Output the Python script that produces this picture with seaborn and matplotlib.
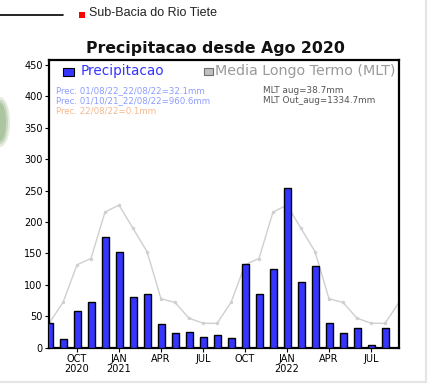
import matplotlib
matplotlib.use("Agg")
import matplotlib.pyplot as plt
import seaborn as sns
import numpy as np
import pandas as pd
from matplotlib.patches import Rectangle, Ellipse

# ---------------- data ----------------
months = ["Aug20", "Sep20", "Oct20", "Nov20", "Dec20", "Jan21", "Feb21", "Mar21",
          "Apr21", "May21", "Jun21", "Jul21", "Aug21", "Sep21", "Oct21", "Nov21",
          "Dec21", "Jan22", "Feb22", "Mar22", "Apr22", "May22", "Jun22", "Jul22", "Aug22"]
precip = [39, 14, 58, 72, 177, 152, 80, 86, 37, 23, 25, 17, 21, 15,
          133, 85, 126, 255, 105, 130, 40, 24, 32, 5, 32.1]
# long-term mean (MLT), Aug 2020 .. Sep 2022 (one point past last bar)
mlt = [38.7, 72, 132, 142, 216, 227, 190, 153, 78, 72, 47, 39,
       38.7, 72, 132, 142, 216, 227, 190, 153, 78, 72, 47, 39, 38.7, 72]
tick_pos = [2, 5, 8, 11, 14, 17, 20, 23]
tick_labels = ["OCT\n2020", "JAN\n2021", "APR", "JUL", "OCT", "JAN\n2022", "APR", "JUL"]
yticks = [0, 50, 100, 150, 200, 250, 300, 350, 400, 450]

title = "Precipitacao desde Ago 2020"
header = "Sub-Bacia do Rio Tiete"
info_left = ["Prec. 01/08/22_22/08/22=32.1mm", "Prec. 01/10/21_22/08/22=960.6mm",
             "Prec. 22/08/22=0.1mm"]
info_right = ["MLT aug=38.7mm", "MLT Out_aug=1334.7mm"]

# ---------------- plot ----------------
sns.set_theme(style="white")
plt.rcParams["font.family"] = ["DejaVu Sans"]

fig = plt.figure(figsize=(4.28, 3.86), dpi=100)
fig.patch.set_facecolor("white")
W, H = 428, 386
ax = fig.add_axes([49 / W, 1 - 347.7 / H, 350 / W, (347.7 - 60) / H])

df = pd.DataFrame({"x": np.arange(len(precip)), "p": precip})
sns.barplot(data=df, x="x", y="p", ax=ax, color="#3535ff", width=0.5,
            edgecolor="black", linewidth=1.0, saturation=1, native_scale=True,
            zorder=3)
for p in ax.patches:
    p.set_facecolor("#3535ff")

dm = pd.DataFrame({"x": np.arange(len(mlt)), "m": mlt})
sns.lineplot(data=dm, x="x", y="m", ax=ax, color="#cfcfcf", linewidth=1.0,
             marker="o", markersize=2.5, markeredgewidth=0, zorder=2)

ax.set_xlim(0, 25)
ax.set_ylim(0, 458)
ax.set_xlabel("")
ax.set_ylabel("")
ax.set_xticks(tick_pos)
ax.set_xticklabels(tick_labels, fontsize=7, linespacing=1.0)
ax.set_yticks(yticks)
ax.set_yticklabels([str(v) for v in yticks], fontsize=7)
ax.tick_params(axis="both", direction="out", length=3, width=0.8, color="black",
               pad=1.5, labelcolor="black", bottom=True, left=True)
for s in ax.spines.values():
    s.set_color("black")
    s.set_linewidth(1.6)
ax.grid(False)

# ---------------- legend / info texts ----------------
def fx(px):
    return px / W

def fy(py):
    return 1 - py / H

fig.patches.append(Rectangle((fx(63), fy(76)), 11 / W, 8 / H, transform=fig.transFigure,
                             facecolor="#3535ff", edgecolor="black", linewidth=0.8))
fig.text(fx(81), fy(71.5), "Precipitacao", color="#3535ff", fontsize=9.8,
         va="center", ha="left")
fig.patches.append(Rectangle((fx(204), fy(75)), 9 / W, 7 / H, transform=fig.transFigure,
                             facecolor="#c0c0c0", edgecolor="#707070", linewidth=0.8))
fig.text(fx(215), fy(71.5), "Media Longo Termo (MLT)", color="#9a9a9a", fontsize=10.3,
         va="center", ha="left")
cols = ["#8c9cff", "#8c9cff", "#f5b78a"]
for i, (t, c) in enumerate(zip(info_left, cols)):
    fig.text(fx(56), fy(90.5 + 10.3 * i), t, color=c, fontsize=6.2, va="center", ha="left")
for i, t in enumerate(info_right):
    fig.text(fx(263), fy(90.5 + 10.3 * i), t, color="#555555", fontsize=6.4,
             va="center", ha="left")

# ---------------- header ----------------
fig.add_artist(plt.Line2D([0, fx(63)], [fy(14.5), fy(14.5)], transform=fig.transFigure,
                          color="black", linewidth=1.2))
fig.patches.append(Rectangle((fx(78.5), fy(18)), 6 / W, 6 / H, transform=fig.transFigure,
                             facecolor="#ff0000", edgecolor="none"))
fig.text(fx(89), fy(13), header, fontsize=9, family="Liberation Sans", color="#222222",
         va="center", ha="left")
fig.text(fx(215), fy(48), title, fontsize=11.3, fontweight="bold", color="#111111",
         va="center", ha="center")

# faint logo fragment at left edge and light frame
for w_, h_, a_ in [(20, 50, 0.25), (16, 44, 0.35), (12, 38, 0.45)]:
    fig.patches.append(Ellipse((fx(0), fy(122)), w_ / W, h_ / H, transform=fig.transFigure,
                               facecolor="#8fb07f", edgecolor="none", alpha=a_))
fig.add_artist(plt.Line2D([fx(426), fx(426)], [fy(0), fy(382)], transform=fig.transFigure,
                          color="#e4e4e4", linewidth=1.5))
fig.add_artist(plt.Line2D([fx(0), fx(426)], [fy(382), fy(382)], transform=fig.transFigure,
                          color="#e4e4e4", linewidth=1.5))

fig.savefig("out.png", dpi=100, facecolor="white")
